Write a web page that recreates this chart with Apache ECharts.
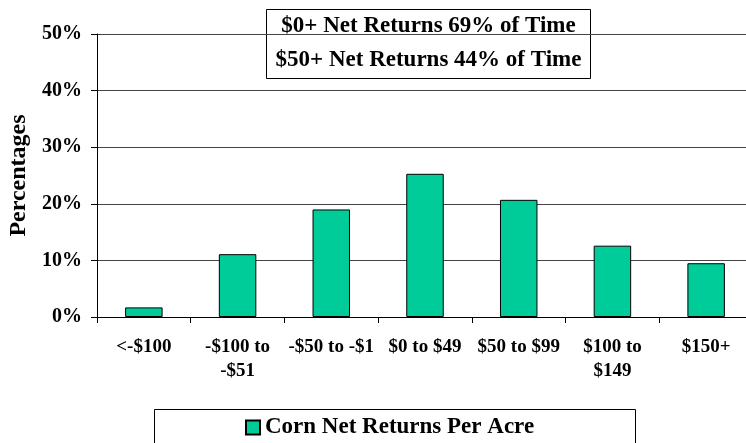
<!DOCTYPE html>
<html><head><meta charset="utf-8">
<script src="https://cdn.jsdelivr.net/npm/echarts@6/dist/echarts.min.js"></script>
<style>html,body{margin:0;padding:0;background:#fff}#c{width:746px;height:443px}</style>
</head><body><div id="c"></div>
<script>
const categories = ['<-$100', '-$100 to\n-$51', '-$50 to -$1', '$0 to $49', '$50 to $99', '$100 to\n$149', '$150+'];
const values = [1.7, 11.1, 19.0, 25.3, 20.7, 12.6, 9.5];
const seriesName = 'Corn Net Returns Per Acre';
const yTicks = [0, 10, 20, 30, 40, 50];
const noteLines = ['$0+ Net Returns 69% of Time', '$50+ Net Returns 44% of Time'];

const F = '"Liberation Serif", "Times New Roman", serif';
const chart = echarts.init(document.getElementById('c'));
chart.setOption({
  animation: false,
  grid: {left: 97, right: -7, top: 34, bottom: 126, containLabel: false, outerBoundsMode: 'none'},
  xAxis: {
    type: 'category', data: categories,
    axisLine: {lineStyle: {color: '#000', width: 1}},
    axisTick: {show: true, length: 6, lineStyle: {color: '#000'}, alignWithLabel: false},
    axisLabel: {interval: 0, color: '#000', fontFamily: F, fontWeight: 'bold', fontSize: 19, lineHeight: 24, margin: 18}
  },
  yAxis: {
    type: 'value', min: yTicks[0], max: yTicks[yTicks.length - 1], interval: 10,
    name: 'Percentages', nameLocation: 'middle', nameGap: 66, nameRotate: 90,
    nameTextStyle: {color: '#000', fontFamily: F, fontWeight: 'bold', fontSize: 24},
    axisLine: {show: true, lineStyle: {color: '#000'}},
    axisTick: {show: true, length: 6, lineStyle: {color: '#000'}},
    axisLabel: {formatter: v => v + '%', color: '#000', fontFamily: F, fontWeight: 'bold', fontSize: 20, margin: 15},
    splitLine: {lineStyle: {color: '#444', width: 1}}
  },
  legend: {
    left: 245, top: 416, padding: 0, itemWidth: 14, itemHeight: 14, itemGap: 5,
    textStyle: {color: '#000', fontFamily: F, fontWeight: 'bold', fontSize: 23},
    data: [{name: seriesName, icon: 'rect'}]
  },
  series: [{
    name: seriesName, type: 'bar', data: values, barWidth: '40%',
    itemStyle: {color: '#00CC99', borderColor: '#000', borderWidth: 1}
  }],
  graphic: [
    {type: 'rect', left: 152, top: 407, shape: {width: 481, height: 50}, style: {fill: 'none', stroke: '#000', lineWidth: 1}, z: 0},
    {type: 'group', left: 266, top: 9, z: 100, children: [
      {type: 'rect', shape: {x: 0, y: 0, width: 324, height: 69}, style: {fill: '#fff', stroke: '#000', lineWidth: 1}},
      {type: 'text', x: 162, y: 17, style: {text: noteLines[0], align: 'center', verticalAlign: 'middle', fill: '#000', font: 'bold 23px ' + F}},
      {type: 'text', x: 162, y: 51, style: {text: noteLines[1], align: 'center', verticalAlign: 'middle', fill: '#000', font: 'bold 23px ' + F}}
    ]}
  ]
});
</script></body></html>
